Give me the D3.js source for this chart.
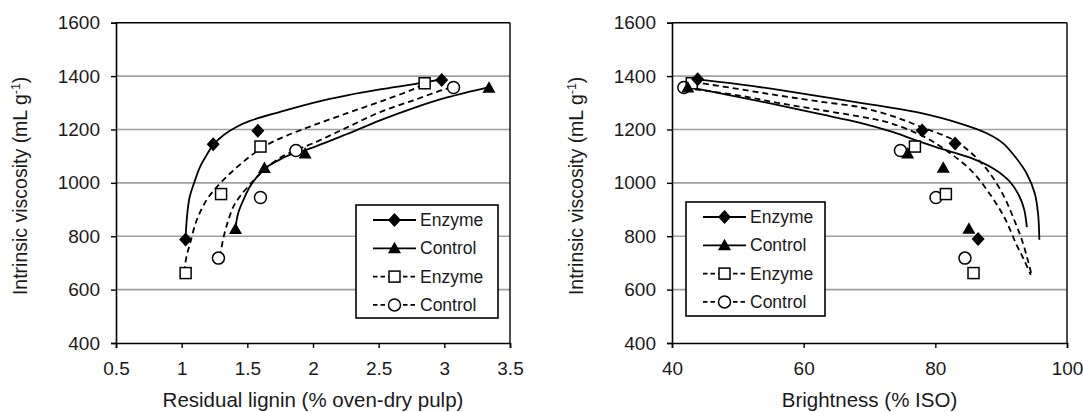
<!DOCTYPE html>
<html><head><meta charset="utf-8">
<script src="https://cdn.jsdelivr.net/npm/d3@7"></script>
<style>
html,body{margin:0;padding:0;background:#fff;}
svg{display:block;font-family:"Liberation Sans",Arial,sans-serif;}
</style></head>
<body><svg id="c" width="1083" height="412"></svg>
<script>
// ---------- data ----------
// Left panel: residual lignin (% oven-dry pulp) vs intrinsic viscosity
const ligEnzSolid  = [[1.03,788],[1.24,1145],[1.58,1195],[2.98,1385]];
const ligCtrlSolid = [[1.41,827],[1.63,1056],[1.94,1110],[3.34,1356]];
const ligEnzDash   = [[1.03,662],[1.30,958],[1.60,1136],[2.85,1373]];
const ligCtrlDash  = [[1.28,718],[1.60,945],[1.87,1121],[3.07,1357]];
// fitted trend curves
const ligEnzSolidFit  = [[1.03,795],[1.04,870],[1.06,945],[1.095,1000],[1.14,1060],[1.19,1104],[1.24,1142],[1.32,1179],[1.42,1210],[1.52,1232],[1.75,1266],[2.0,1300],[2.26,1328],[2.51,1350],[2.77,1370],[2.98,1388]];
const ligCtrlSolidFit = [[1.41,832],[1.43,886],[1.47,936],[1.52,986],[1.585,1029],[1.65,1060],[1.75,1088],[1.86,1112],[1.95,1124],[2.26,1183],[2.51,1234],[2.77,1281],[3.02,1320],[3.34,1359]];
const ligEnzDashFit   = [[1.02,665],[1.035,720],[1.064,773],[1.115,861],[1.19,936],[1.27,986],[1.37,1036],[1.47,1079],[1.57,1117],[1.67,1148],[1.80,1177],[2.0,1215],[2.26,1261],[2.51,1304],[2.77,1352],[2.85,1373]];
const ligCtrlDashFit  = [[1.29,722],[1.32,798],[1.356,861],[1.394,911],[1.445,950],[1.55,1010],[1.65,1058],[1.75,1094],[1.87,1123],[2.0,1148],[2.26,1208],[2.51,1265],[2.77,1310],[3.0,1350],[3.07,1357]];

// Right panel: brightness (% ISO) vs intrinsic viscosity
const briEnzSolid  = [[43.9,1388],[78.0,1196],[83.0,1147],[86.5,790]];
const briCtrlSolid = [[42.4,1357],[75.8,1110],[81.2,1057],[85.1,828]];
const briEnzDash   = [[43.0,1373],[76.9,1136],[81.6,958],[85.8,662]];
const briCtrlDash  = [[41.8,1357],[74.7,1121],[80.1,945],[84.5,718]];
const briEnzSolidFit  = [[43.9,1388],[50,1370],[56,1349],[62,1326],[68.6,1300],[73,1283],[77.7,1262],[83.7,1223],[87.8,1186],[90.3,1148],[92.3,1092],[93.85,1036],[95.1,961],[95.6,886],[95.8,787]];
const briCtrlSolidFit = [[42.4,1360],[50,1322],[56,1292],[62,1260],[68.6,1225],[73.6,1190],[77.2,1158],[80,1135],[83,1112],[85.75,1090],[88.8,1054],[91.3,1005],[92.8,948],[93.5,900],[93.9,834]];
const briEnzDashFit   = [[43.2,1378],[50,1352],[56,1328],[62,1306],[68.6,1283],[73.5,1250],[77.8,1210],[82.8,1160],[85.5,1111],[88,1045],[90.3,955],[92,860],[93.3,775],[94.6,658]];
const briCtrlDashFit  = [[42.0,1355],[50,1328],[56,1300],[62,1275],[68.6,1248],[73,1225],[78.5,1170],[82.2,1112],[85.5,1045],[88,968],[90.5,870],[92.3,770],[93.5,710],[94.5,655]];

const yTicks = [400,600,800,1000,1200,1400,1600];
const ligTicks = [0.5,1,1.5,2,2.5,3,3.5];
const ligTickLabels = ["0.5","1","1.5","2","2.5","3","3.5"];
const briTicks = [40,60,80,100];
const legendLabels = ["Enzyme","Control","Enzyme","Control"];

// ---------- drawing ----------
const svg = d3.select("#c");
const TXT = "#1a1a1a";

function sym(g, type, x, y) {
  if (type === "diamond") {
    g.append("path").attr("d", `M${x},${y-7}L${x+6.5},${y}L${x},${y+7}L${x-6.5},${y}Z`).attr("fill","#000");
  } else if (type === "triangle") {
    g.append("path").attr("d", `M${x},${y-6.5}L${x+6.5},${y+5}L${x-6.5},${y+5}Z`).attr("fill","#000");
  } else if (type === "square") {
    g.append("rect").attr("x",x-5.5).attr("y",y-5.5).attr("width",11).attr("height",11)
      .attr("fill","#fff").attr("stroke","#000").attr("stroke-width",1.5);
  } else {
    g.append("circle").attr("cx",x).attr("cy",y).attr("r",6)
      .attr("fill","#fff").attr("stroke","#000").attr("stroke-width",1.5);
  }
}

function panel(opt) {
  const g = svg.append("g");
  const x = d3.scaleLinear().domain(opt.xDomain).range([opt.x0, opt.x1]);
  const y = d3.scaleLinear().domain([400,1600]).range([343, 22.7]);

  // gridlines
  g.selectAll(".grid").data(yTicks.filter(v => v > 400 && v < 1600)).enter().append("line")
    .attr("x1", opt.x0).attr("x2", opt.x1).attr("y1", d => y(d)).attr("y2", d => y(d))
    .attr("stroke","#a0a0a0").attr("stroke-width",1.6);
  // plot border top / right
  g.append("line").attr("x1",opt.x0).attr("x2",opt.x1).attr("y1",y(1600)).attr("y2",y(1600)).attr("stroke","#000").attr("stroke-width",1.4);
  g.append("line").attr("x1",opt.x1).attr("x2",opt.x1).attr("y1",y(1600)).attr("y2",y(400)).attr("stroke","#000").attr("stroke-width",1.4);

  // axes
  const ax = d3.axisBottom(x).tickValues(opt.xTicks).tickSize(5).tickPadding(14)
    .tickFormat((d,i) => opt.xLabels[i]);
  const gx = g.append("g").attr("transform",`translate(0,${y(400)})`).call(ax);
  const ay = d3.axisLeft(y).tickValues(yTicks).tickSize(5).tickPadding(11).tickFormat(d3.format("d"));
  const gy = g.append("g").attr("transform",`translate(${opt.x0},0)`).call(ay);
  [gx,gy].forEach(a => {
    a.select(".domain").attr("stroke","#000").attr("stroke-width",1.6);
    a.selectAll(".tick line").attr("stroke","#000").attr("stroke-width",1.4);
    a.selectAll(".tick text").attr("font-size",19).attr("fill",TXT)
      .attr("font-family",'"Liberation Sans",Arial,sans-serif');
  });

  // axis titles
  g.append("text").attr("x",(opt.x0+opt.x1)/2).attr("y",407).attr("text-anchor","middle")
    .attr("font-size",20.5).attr("fill",TXT).text(opt.xTitle);
  const yt = g.append("text").attr("transform",`translate(${opt.yTitleX},${(y(400)+y(1600))/2 + 3}) rotate(-90)`)
    .attr("text-anchor","middle").attr("font-size",19.5).attr("fill",TXT);
  yt.append("tspan").text("Intrinsic viscosity (mL g");
  yt.append("tspan").attr("font-size",12.5).attr("dy",-7).text("-1");
  yt.append("tspan").attr("dy",7).text(")");

  // fitted curves
  const line = d3.line().x(d => x(d[0])).y(d => y(d[1])).curve(d3.curveCatmullRom.alpha(0.5));
  opt.fits.forEach((f,i) => {
    g.append("path").attr("d", line(f)).attr("fill","none").attr("stroke","#000")
      .attr("stroke-width", 1.8).attr("stroke-dasharray", i >= 2 ? "6,4" : null);
  });

  // markers
  const types = ["diamond","triangle","square","circle"];
  const order = [3,2,1,0];
  order.forEach(i => opt.series[i].forEach(p => sym(g, types[i], x(p[0]), y(p[1]))));

  // legend
  const L = opt.legend;
  g.append("rect").attr("x",L.x).attr("y",L.y).attr("width",L.w).attr("height",L.h)
    .attr("fill","#fff").attr("stroke","#000").attr("stroke-width",1.6);
  legendLabels.forEach((lab,i) => {
    const cy = L.y + 15 + i*28.3;
    g.append("line").attr("x1",L.x+17).attr("x2",L.x+60).attr("y1",cy).attr("y2",cy)
      .attr("stroke","#000").attr("stroke-width",1.8).attr("stroke-dasharray", i >= 2 ? "4.5,3" : null);
    sym(g, types[i], L.x+38.5, cy);
    g.append("text").attr("x",L.x+64).attr("y",cy+6).attr("font-size",17.5).attr("fill",TXT).text(lab);
  });
}

panel({
  xDomain:[0.5,3.5], x0:116, x1:510, xTicks:ligTicks, xLabels:ligTickLabels,
  xTitle:"Residual lignin (% oven-dry pulp)", yTitleX:27,
  series:[ligEnzSolid, ligCtrlSolid, ligEnzDash, ligCtrlDash],
  fits:[ligEnzSolidFit, ligCtrlSolidFit, ligEnzDashFit, ligCtrlDashFit],
  legend:{x:356, y:205, w:142, h:113}
});
panel({
  xDomain:[40,100], x0:672, x1:1067, xTicks:briTicks, xLabels:briTicks.map(String),
  xTitle:"Brightness (% ISO)", yTitleX:583,
  series:[briEnzSolid, briCtrlSolid, briEnzDash, briCtrlDash],
  fits:[briEnzSolidFit, briCtrlSolidFit, briEnzDashFit, briCtrlDashFit],
  legend:{x:686, y:202, w:139, h:114}
});
</script></body></html>
